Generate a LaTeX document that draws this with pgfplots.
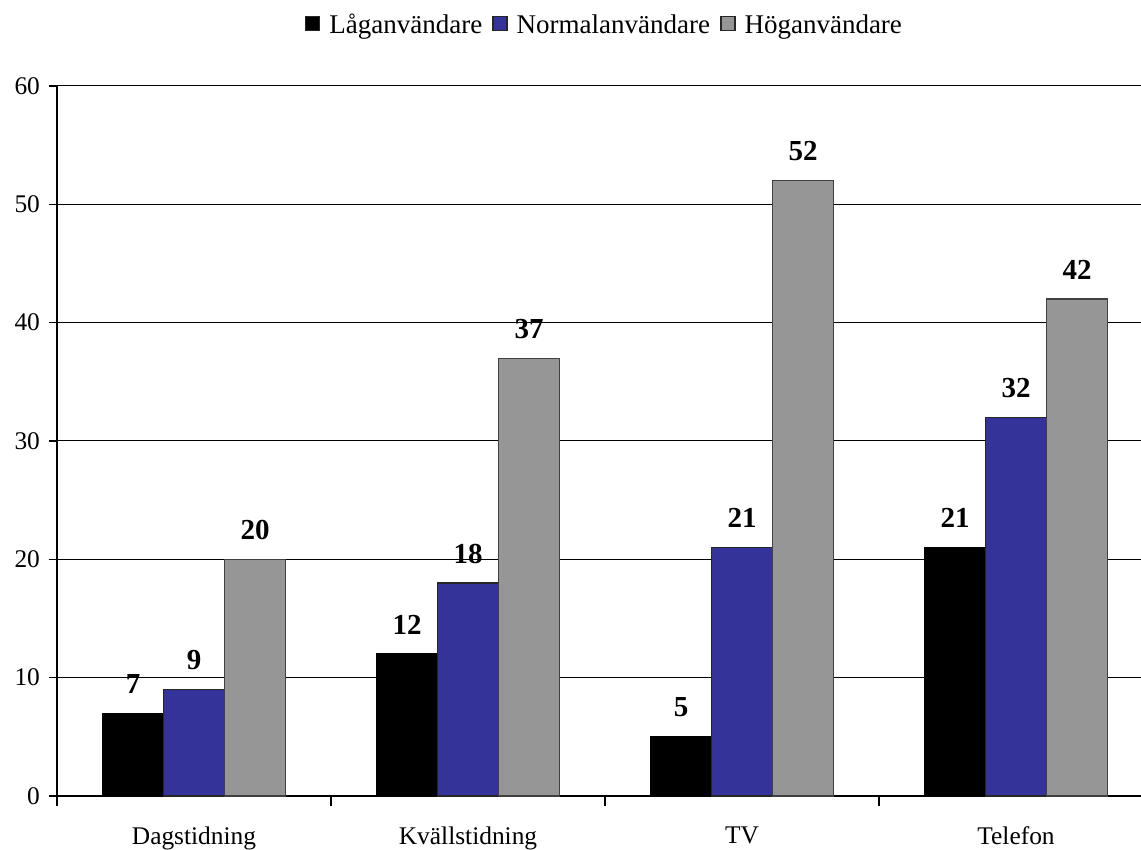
\documentclass[border=0pt]{standalone}
\usepackage{fontspec}
\setmainfont{Liberation Serif}
\usepackage{pgfplots}
\pgfplotsset{compat=1.18}
\definecolor{bblue}{HTML}{333399}
\definecolor{bgray}{HTML}{969696}
\begin{document}
\begin{tikzpicture}
\begin{axis}[
  width=542pt, height=355pt, scale only axis,
  ybar=0pt, bar width=30.5pt,
  xmin=-0.5, xmax=3.456, ymin=0, ymax=60,
  axis x line=bottom, axis y line=left,
  axis line style={-, line width=0.8pt},
  xtick={0,1,2,3},
  xticklabels={Dagstidning,Kvällstidning,TV,Telefon},
  major x tick style={draw=none},
  minor xtick={-0.5,0.5,1.5,2.5},
  minor x tick style={line width=0.8pt, black},
  minor tick length=5pt,
  xticklabel style={font=\fontsize{12.7}{14}\selectfont, yshift=-8pt},
  ytick={0,10,...,60},
  ymajorgrids, grid style={black, line width=0.5pt},
  major y tick style={line width=0.8pt, black},
  major tick length=4pt,
  tick align=outside,
  yticklabel style={font=\fontsize{12.7}{14}\selectfont, xshift=-1pt},
  /pgf/number format/assume math mode=true,
  nodes near coords,
  every node near coord/.append style={font=\bfseries\fontsize{14.5}{16}\selectfont, inner sep=0pt, anchor=south, yshift=9.5pt},
  legend columns=3,
  legend style={draw=none, at={(rel axis cs:0.506,1.085)}, anchor=center,
    font=\fontsize{13.5}{15}\selectfont,
    /tikz/every even column/.append style={column sep=3pt},
    /tikz/every odd column/.append style={column sep=2.5pt}},
  legend image code/.code={\draw[#1, draw=black!85, line width=0.7pt] (0pt,-2.3pt) rectangle (7pt,4.7pt);},
  clip=false,
]
\addplot[fill=black, draw=black, line width=0.6pt] coordinates {(0,7) (1,12) (2,5) (3,21)};
\addplot[fill=bblue, draw=black!85, line width=0.6pt] coordinates {(0,9) (1,18) (2,21) (3,32)};
\addplot[fill=bgray, draw=black!75, line width=0.6pt] coordinates {(0,20) (1,37) (2,52) (3,42)};
\legend{Låganvändare,Normalanvändare,Höganvändare}
\coordinate (bl) at (rel axis cs:0,0);
\end{axis}
\pgfresetboundingbox
\path[use as bounding box] ([shift={(-28.5pt,-27pt)}]bl) rectangle ([shift={(542pt,398pt)}]bl);
\end{tikzpicture}
\end{document}
